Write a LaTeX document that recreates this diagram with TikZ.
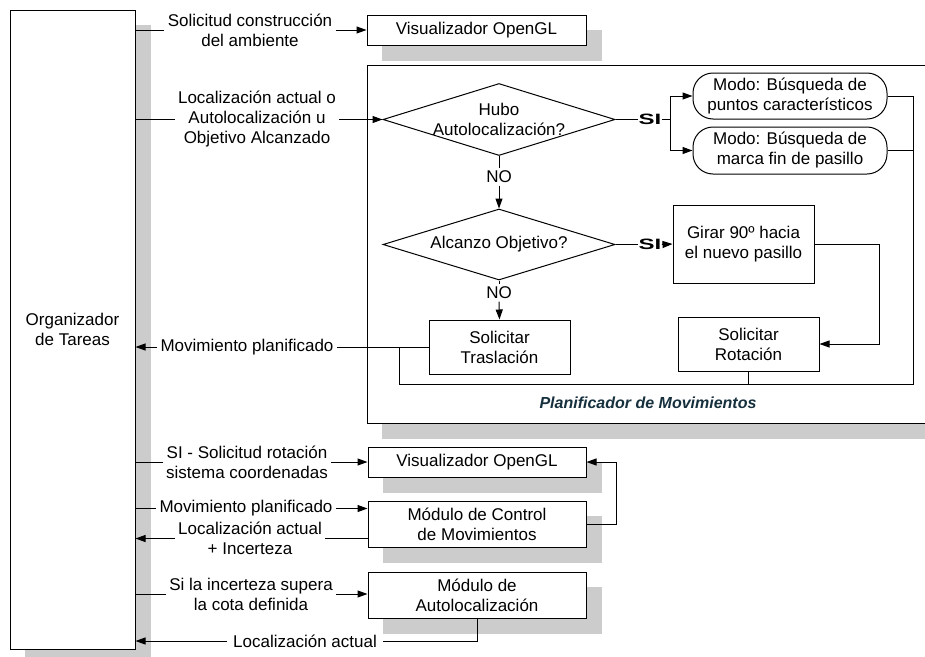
\documentclass[tikz,border=0pt]{standalone}
\usepackage{fontspec}
\setmainfont{Liberation Sans}
\usetikzlibrary{shapes.geometric,arrows.meta,backgrounds}
\definecolor{shadowgray}{RGB}{204,204,204}
\definecolor{headcolor}{RGB}{22,48,62}
\begin{document}
\begin{tikzpicture}[x=1pt, y=-1pt, line width=1pt,
  font=\fontsize{17}{20}\selectfont,
  box/.style={draw, fill=white, align=center, inner sep=0pt},
  mode/.style={box, rounded corners=20pt},
  decision/.style={diamond, draw, fill=white, inner sep=0pt},
  lbl/.style={align=center, inner xsep=3pt, inner ysep=0pt},
  yes/.style={inner sep=0pt, font=\fontsize{15}{18}\selectfont\bfseries},
  no/.style={inner xsep=0pt, inner ysep=2pt},
  headline/.style={font=\fontsize{16}{19}\selectfont\bfseries\itshape, text=headcolor},
  flow/.style={-{Triangle[length=10pt,width=7pt]}},
]
\useasboundingbox (0,0) rectangle (925,656);
\clip (0,0) rectangle (925,656);

% ---- blocks ----
\node[box, minimum width=125, minimum height=639] (org) at (72.5,329.5) {Organizador\\de Tareas};
\node[box, minimum width=219, minimum height=30] (vis1) at (476.5,30) {Visualizador OpenGL};
\node[box, minimum width=568, minimum height=358] (plan) at (651,244) {};
\node[headline] (plantitle) at (648,403) {Planificador de Movimientos};

\node[decision, minimum width=232, minimum height=72,
      label={[align=center]center:{Hubo\\Autolocalización?}}] (hubo) at (499,119.5) {};
\node[decision, minimum width=232, minimum height=71,
      label={center:Alcanzo Objetivo?}] (alc) at (499,244.5) {};
\node[mode, minimum width=194, minimum height=46] (modo1) at (790,96) {Modo: Búsqueda de\\puntos característicos};
\node[mode, minimum width=194, minimum height=47] (modo2) at (790,150.5) {Modo: Búsqueda de\\marca fin de pasillo};
\node[box, minimum width=141, minimum height=78] (girar) at (743.5,244) {Girar 90º hacia\\el nuevo pasillo};
\node[box, minimum width=141, minimum height=54] (rot) at (748.5,344) {Solicitar\\Rotación};
\node[box, minimum width=141, minimum height=54] (tras) at (499.5,347) {Solicitar\\Traslación};

\node[box, minimum width=218, minimum height=30] (vis2) at (477,462) {Visualizador OpenGL};
\node[box, minimum width=218, minimum height=46] (ctrl) at (477,524) {Módulo de Control\\de Movimientos};
\node[box, minimum width=218, minimum height=46] (autoloc) at (477,595) {Módulo de\\Autolocalización};

% ---- drop shadows ----
\begin{scope}[on background layer]
  \clip (0,0) rectangle (925,656);
  \foreach \n in {org,vis1,plan,vis2,ctrl,autoloc}
    \fill[shadowgray] ([shift={(15,15)}]\n.north west) rectangle ([shift={(15,15)}]\n.south east);
\end{scope}

% ---- connector labels ----
\node[lbl] (l1) at (250,30) {Solicitud construcción\\del ambiente};
\node[lbl] (l2) at (257,119.5) {Localización actual o\\Autolocalización u\\Objetivo Alcanzado};
\node[lbl] (l3) at (247,347) {Movimiento planificado};
\node[lbl] (l4) at (247,462) {SI - Solicitud rotación\\sistema coordenadas};
\node[lbl] (l5) at (246,508.5) {Movimiento planificado};
\node[lbl] (l6) at (250,538.5) {Localización actual\\+ Incerteza};
\node[lbl] (l7) at (251,594) {Si la incerteza supera\\la cota definida};
\node[lbl, inner xsep=6pt] (l8) at (305,641) {Localización actual};

\node[yes] (si1) at (650,119.5) {\scalebox{1.6}[1]{SI}};
\node[yes] (si2) at (650,244.5) {\scalebox{1.6}[1]{SI}};
\node[no] (no1) at (499,177) {NO};
\node[no] (no2) at (499,293) {NO};

\coordinate (fork) at (670,119.5);
\coordinate (gturn) at (879,244);
\coordinate (busR) at (913,384);
\coordinate (busL) at (399,384);
\coordinate (cturn) at (616,524);

% ---- connectors ----
\draw (org.east |- l1) -- (l1.west);
\draw[flow] (l1.east) -- (vis1.west);

\draw (org.east |- l2) -- (l2.west);
\draw[flow] (l2.east) -- (hubo.west);

\draw (hubo.east) -- (si1.west);
\draw (si1.east) -- (fork);
\draw[flow] (fork) |- (modo1.west);
\draw[flow] (fork) |- (modo2.west);

\draw (hubo.south) -- (no1.north);
\draw[flow] (no1.south) -- (alc.north);

\draw (alc.east) -- (si2.west);
\draw[flow] (si2.east) -- (girar.west);

\draw (alc.south) -- (no2.north);
\draw[flow] (no2.south) -- (tras.north);

\draw[flow] (girar.east) -- (gturn) |- (rot.east);

\draw (modo1.east) -| (busR) -- (busL) |- (tras.west);
\draw (modo2.east) -- (modo2.east -| busR);
\draw (rot.south) -- (rot.south |- busR);

\draw (tras.west) -- (l3.east);
\draw[flow] (l3.west) -- (org.east |- l3);

\draw (org.east |- l4) -- (l4.west);
\draw[flow] (l4.east) -- (vis2.west);

\draw (org.east |- l5) -- (l5.west);
\draw[flow] (l5.east) -- (l5.east -| ctrl.west);

\draw (l6.east -| ctrl.west) -- (l6.east);
\draw[flow] (l6.west) -- (org.east |- l6);

\draw[flow] (ctrl.east) -- (cturn) |- (vis2.east);

\draw (org.east |- l7) -- (l7.west);
\draw[flow] (l7.east) -- (l7.east -| autoloc.west);

\draw (autoloc.south) |- (l8.east);
\draw[flow] (l8.west) -- (org.east |- l8);
\end{tikzpicture}
\end{document}
